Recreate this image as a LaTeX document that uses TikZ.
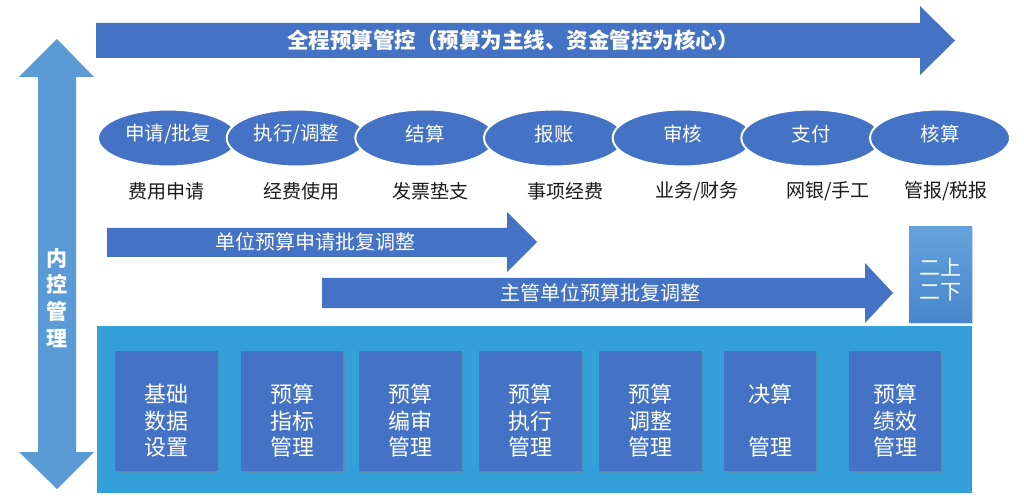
\documentclass[tikz,border=0pt]{standalone}
\usepackage{fontspec}
\setmainfont{Noto Sans CJK SC}
\usetikzlibrary{shapes.geometric,shadows}
\definecolor{mainblue}{HTML}{4472C4}
\definecolor{lightblue}{HTML}{5B9BD5}
\definecolor{skyblue}{HTML}{33A0DA}
\definecolor{boxtop}{HTML}{64A3DD}
\definecolor{boxbot}{HTML}{4786CC}
\definecolor{labelgray}{HTML}{1A1A1A}
\tikzset{
  stageell/.style={ellipse, fill=mainblue, draw=white, line width=2pt,
    minimum width=140pt, minimum height=57pt, inner sep=0pt},
  stagetext/.style={text=white, font=\fontsize{19.5}{22}\selectfont},
  sublabel/.style={text=labelgray, font=\fontsize{19}{22}\selectfont},
  arrowtext/.style={text=white, font=\fontsize{20}{22}\selectfont},
  modbox/.style={fill=mainblue, draw=none, inner sep=0pt,
    drop shadow={shadow xshift=1.5pt, shadow yshift=-2pt, opacity=0.35}},
  modtext/.style={text=white, align=center, font=\fontsize{22}{26.5}\selectfont},
}
\begin{document}
\begin{tikzpicture}[x=1pt,y=-1pt]
\useasboundingbox (0,0) rectangle (1024,502);
\fill[white] (0,0) rectangle (1024,502);

% top arrow
\fill[mainblue] (96,23) -- (920,23) -- (920,6) -- (955,40.5) -- (920,75) -- (920,58) -- (96,58) -- cycle;
\node[text=white, font=\bfseries\fontsize{21.5}{24}\selectfont] (title) at (513,40.5)
  {全程预算管控（预算为主线、资金管控为核心）};

% left double arrow
\fill[lightblue] (57,39) -- (94,77) -- (76,77) -- (76,452) -- (94,452) -- (57,489)
  -- (19,452) -- (38,452) -- (38,77) -- (19,77) -- cycle;
\node[text=white, align=center, font=\bfseries\fontsize{21}{26.7}\selectfont] (nk) at (57,298)
  {内\\控\\管\\理};

% ellipses
\foreach \t [count=\i from 0] in {申请/批复,执行/调整,结算,报账,审核,支付,核算}{
  \node[stageell] (e\i) at ({168+\i*128.67},138) {};
  \node[stagetext] (et\i) at ({168+\i*128.67},134) {\t};
}

% sub labels
\node[sublabel] (s0) at (166,191) {费用申请};
\node[sublabel] (s1) at (301,191) {经费使用};
\node[sublabel] (s2) at (430,191) {发票垫支};
\node[sublabel] (s3) at (565,191) {事项经费};
\node[sublabel] (s4) at (697,191) {业务/财务};
\node[sublabel] (s5) at (828,191) {网银/手工};
\node[sublabel] (s6) at (946,191) {管报/税报};

% arrow 2
\fill[mainblue] (107,228) -- (507,228) -- (507,212) -- (537,242) -- (507,272) -- (507,257) -- (107,257) -- cycle;
\node[arrowtext] (a2) at (315,242) {单位预算申请批复调整};

% arrow 3
\fill[mainblue] (322,278) -- (865,278) -- (865,263) -- (893,293) -- (865,323) -- (865,308) -- (322,308) -- cycle;
\node[arrowtext] (a3) at (600,293) {主管单位预算批复调整};

% bottom panel
\fill[skyblue] (97,326) rectangle (972,493);

% er shang er xia box
\path[top color=boxtop, bottom color=boxbot, drop shadow={shadow xshift=1pt, shadow yshift=-2pt, opacity=0.3}]
  (909,227) rectangle (972,322);
\node[text=white, align=center, font=\fontsize{21}{24}\selectfont] (esx) at (940,280) {二上\\二下};

% module boxes
\foreach \xa/\xb/\t [count=\i] in {
  115/218/{基础\\数据\\设置},
  241/343/{预算\\指标\\管理},
  359/462/{预算\\编审\\管理},
  479/582/{预算\\执行\\管理},
  599/702/{预算\\调整\\管理},
  724/816/{决算\\\mbox{}\\管理},
  849/941/{预算\\绩效\\管理}}{
  \node[modbox, minimum width={\xb-\xa}, minimum height=120pt] (m\i) at ({(\xa+\xb)/2},411) {};
  \node[modtext] (mt\i) at ({(\xa+\xb)/2},421) {\t};
}
\end{tikzpicture}
\end{document}
